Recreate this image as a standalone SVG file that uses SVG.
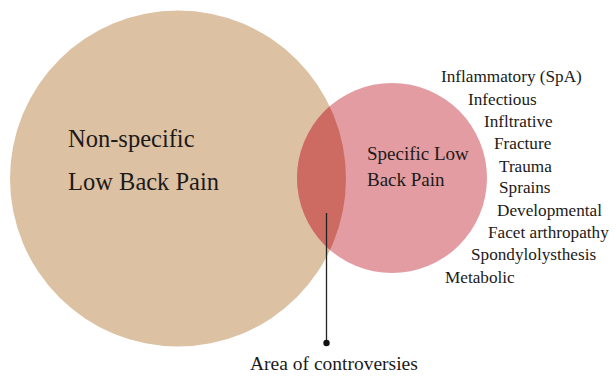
<svg xmlns="http://www.w3.org/2000/svg" width="616" height="376" viewBox="0 0 616 376">
<style>
text{font-family:"Liberation Serif","DejaVu Serif",serif;fill:#1c1a1a}
.big{font-size:24.5px}
.mid{font-size:19px}
.ctr{font-size:19.5px}
.lst{font-size:17.2px}
</style>
<defs>
<clipPath id="clipBig"><circle cx="178" cy="178.5" r="168"/></clipPath>
</defs>
<rect width="616" height="376" fill="#ffffff"/>
<g id="nonspecific">
<circle cx="178" cy="178.5" r="168" fill="#dcc1a2"/>
<text class="big" x="68" y="147">Non-specific</text>
<text class="big" x="68" y="190">Low Back Pain</text>
</g>
<g id="specific">
<circle cx="392" cy="178" r="95" fill="#e39da2"/>
<circle cx="392" cy="178" r="95" fill="#cd6b62" clip-path="url(#clipBig)"/>
<text class="mid" x="367" y="160">Specific Low</text>
<text class="mid" x="367" y="186">Back Pain</text>
</g>
<g id="list">
<text class="lst" x="441" y="82">Inflammatory (SpA)</text>
<text class="lst" x="468" y="105">Infectious</text>
<text class="lst" x="484" y="127">Infltrative</text>
<text class="lst" x="494" y="149">Fracture</text>
<text class="lst" x="499" y="172">Trauma</text>
<text class="lst" x="499" y="193">Sprains</text>
<text class="lst" x="497" y="216">Developmental</text>
<text class="lst" x="488" y="238">Facet arthropathy</text>
<text class="lst" x="471" y="260">Spondylolysthesis</text>
<text class="lst" x="445" y="283">Metabolic</text>
</g>
<g id="connectors">
<line x1="326.5" y1="213" x2="326.5" y2="343" stroke="#222" stroke-width="1.3"/>
<circle cx="326.5" cy="343" r="3.2" fill="#111"/>
</g>
<g id="controversy">
<text class="ctr" x="250" y="370">Area of controversies</text>
</g>
</svg>
